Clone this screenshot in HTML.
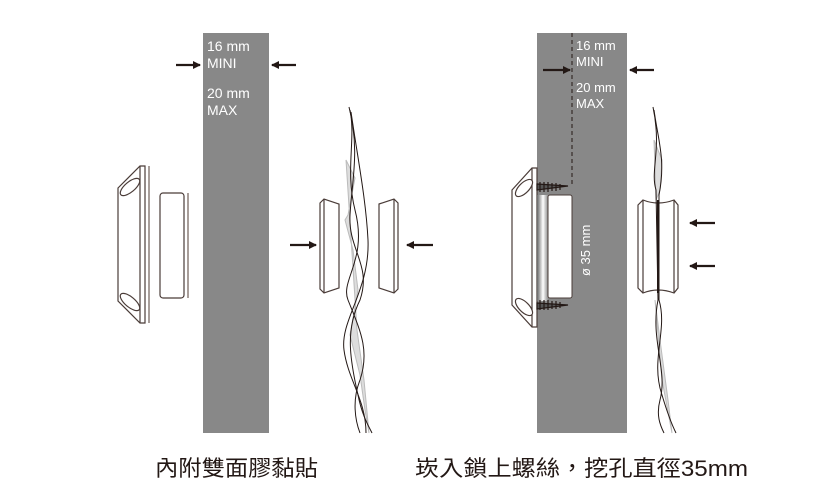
<!DOCTYPE html>
<html><head><meta charset="utf-8"><style>
html,body{margin:0;padding:0;background:#fff;width:825px;height:499px;overflow:hidden}
svg{display:block}
.t{font-family:"Liberation Sans","Noto Sans CJK TC",sans-serif}
</style></head><body>
<svg width="825" height="499" viewBox="0 0 825 499" xmlns="http://www.w3.org/2000/svg">
<defs>
<marker id="ah" markerWidth="8" markerHeight="8" refX="7" refY="4" orient="auto" markerUnits="userSpaceOnUse">
<path d="M0,0 L8,4 L0,8 Z" fill="#231815"/></marker>
<linearGradient id="cyl" x1="0" x2="1"><stop offset="0" stop-color="#666"/><stop offset="0.5" stop-color="#fff"/><stop offset="1" stop-color="#777"/></linearGradient>
</defs>
<rect x="203" y="33" width="66" height="400" fill="#888"/>
<rect x="537" y="33" width="90" height="400" fill="#888"/>
<line x1="572" y1="33" x2="572" y2="187" stroke="#231815" stroke-width="1" stroke-dasharray="4,3"/>
<g class="t" fill="#fff" font-size="14">
<text x="207" y="51">16 mm</text><text x="207" y="68">MINI</text>
<text x="207" y="98">20 mm</text><text x="207" y="115">MAX</text>
<text x="576" y="50" font-size="13">16 mm</text><text x="576" y="66" font-size="13">MINI</text>
<text x="576" y="92" font-size="13">20 mm</text><text x="576" y="108" font-size="13">MAX</text>
<text transform="translate(590,276) rotate(-90)" font-size="13">ø 35 mm</text>
</g>
<g stroke="#231815" stroke-width="2.2" fill="none">
<line x1="176" y1="65" x2="200" y2="65" marker-end="url(#ah)"/>
<line x1="296" y1="65" x2="272" y2="65" marker-end="url(#ah)"/>
<line x1="543" y1="70" x2="570" y2="70" marker-end="url(#ah)"/>
<line x1="654" y1="70" x2="630" y2="70" marker-end="url(#ah)"/>
<line x1="290" y1="245" x2="316" y2="245" marker-end="url(#ah)"/>
<line x1="433" y1="245" x2="407" y2="245" marker-end="url(#ah)"/>
<line x1="715" y1="223" x2="690" y2="223" marker-end="url(#ah)"/>
<line x1="715" y1="266" x2="690" y2="266" marker-end="url(#ah)"/>
</g>
<g stroke="#4a3c38" stroke-width="1.2" fill="#fff">
<path d="M118,188 L140,166 L145,166 L145,323 L140,323 L118,301 Z"/>
<line x1="140" y1="166" x2="140" y2="323"/>
<ellipse cx="130" cy="187" rx="12" ry="5" transform="rotate(-40 130 187)"/>
<ellipse cx="130" cy="302" rx="12" ry="5" transform="rotate(40 130 302)"/>
<rect x="160" y="193" width="24" height="105" rx="3"/>
</g>
<line x1="149" y1="166" x2="149" y2="323" stroke="#6d5d58" stroke-width="1.2"/>
<line x1="188" y1="193" x2="188" y2="298" stroke="#6d5d58" stroke-width="1.2"/>
<g stroke="#4a3c38" stroke-width="1.2" fill="#fff">
<path d="M320,203 L324,199 L339,204 L339,288 L324,293 L320,289 Z"/>
<line x1="324" y1="199" x2="324" y2="293"/>
<path d="M379,204 L394,199 L398,203 L398,289 L394,293 L379,288 Z"/>
<line x1="394" y1="199" x2="394" y2="293"/>
</g>
<g fill="none" stroke-width="1">
<path d="M346,160 L355,178 L348,215 L345,220 L353,250 L358,290 L350,335 L360,375 L365,410 L369,433 L364,380 L357,330 Z" fill="#ddd" stroke="#bbb"/>
<path d="M349,107 C360,150 352,180 350,215 C348,250 372,265 360,300 C345,330 350,360 358,395 C362,415 368,425 372,433" stroke="#231815"/>
<path d="M350,110 C356,140 345,170 355,210 C368,260 340,280 348,300 C360,330 370,350 360,380 C352,400 355,420 360,433" stroke="#231815"/>
<path d="M351,112 C358,160 366,200 368,240 C370,290 340,320 344,350 C348,380 366,400 366,433" stroke="#231815"/>
</g>
<g stroke="#4a3c38" stroke-width="1.2" fill="#fff">
<path d="M512,190 L532,168 L537,168 L537,327 L532,327 L512,305 Z"/>
<line x1="532" y1="168" x2="532" y2="327"/>
<ellipse cx="524" cy="188" rx="11" ry="5" transform="rotate(-45 524 188)"/>
<ellipse cx="524" cy="307" rx="11" ry="5" transform="rotate(45 524 307)"/>
</g>
<rect x="537" y="195" width="12" height="106" fill="url(#cyl)"/>
<rect x="548" y="195" width="24" height="103" rx="2" fill="#fff" stroke="#4a3c38" stroke-width="1"/>
<g stroke="#231815" stroke-width="1.2">
<path d="M537,184 L568,186 L537,190 Z" fill="#555"/>
<path d="M537,303 L568,305 L537,309 Z" fill="#555"/>
<path d="M540,182v10M544,182v10M548,182v10M552,183v8M556,183v8M560,184v6M540,300v10M544,300v10M548,300v10M552,301v8M556,301v8M560,302v6" />
</g>
<g stroke="#4a3c38" stroke-width="1.2" fill="#fff">
<path d="M638,205 L643,200 Q658,206 674,200 L678,205 L678,288 L674,293 Q658,287 643,293 L638,288 Z"/>
<line x1="643" y1="200" x2="643" y2="293"/><line x1="674" y1="200" x2="674" y2="293"/>
</g>
<g fill="none" stroke-width="1">
<path d="M654,140 L662,160 L660,190 L656,200 Z M655,300 L660,340 L668,400 L672,433 L662,380 Z" fill="#ddd" stroke="#bbb"/>
<path d="M653,107 C662,150 650,170 656,190 L658,300 C650,340 668,370 660,400 C656,415 660,425 664,433" stroke="#231815"/>
<path d="M654,110 C658,140 666,160 659,195 L659,300 C668,330 650,360 662,395 C668,415 672,425 676,433" stroke="#231815"/>
<line x1="658" y1="200" x2="658" y2="293" stroke="#231815" stroke-width="2"/>
</g>
<g class="t" fill="#231815" font-size="22">
<text x="155" y="476" textLength="163" lengthAdjust="spacingAndGlyphs">內附雙面膠黏貼</text>
<text x="415" y="476" textLength="333" lengthAdjust="spacingAndGlyphs">崁入鎖上螺絲，挖孔直徑35mm</text>
</g>
</svg>
</body></html>
